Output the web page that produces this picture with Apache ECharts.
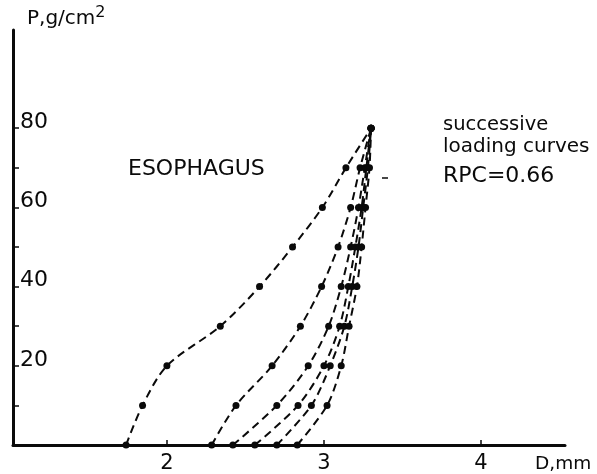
<!DOCTYPE html>
<html>
<head>
<meta charset="utf-8">
<script src="https://cdn.jsdelivr.net/npm/echarts@6/dist/echarts.min.js"></script>
<style>
  html, body { margin: 0; padding: 0; background: #fff; }
  #chart { width: 597px; height: 474px; }
</style>
</head>
<body>
<div id="chart"></div>
<script>
// Pressure steps (g/cm2) shared by every loading curve
const pressures = [0, 10, 20, 30, 40, 50, 60, 70, 80];

// Diameter (mm) at each pressure step, one array per successive loading
const load1 = [1.74, 1.845, 2.00, 2.34, 2.59, 2.80, 2.99, 3.14, 3.30];
const load2 = [2.285, 2.44, 2.67, 2.85, 2.985, 3.09, 3.17, 3.23, 3.30];
const load3 = [2.42, 2.70, 2.90, 3.03, 3.11, 3.17, 3.22, 3.26, 3.30];
const load4 = [2.56, 2.835, 3.00, 3.10, 3.155, 3.20, 3.24, 3.27, 3.30];
const load5 = [2.70, 2.92, 3.04, 3.13, 3.18, 3.22, 3.25, 3.28, 3.30];
const load6 = [2.83, 3.02, 3.11, 3.16, 3.21, 3.24, 3.265, 3.29, 3.30];

const loads = [load1, load2, load3, load4, load5, load6];

const xTicks = [2, 3, 4];
const yTicks = [10, 20, 30, 40, 50, 60, 70, 80];
const yLabels = [20, 40, 60, 80];

const FONT = 'DejaVu Sans';
const INK = '#0a0a0a';

const chart = echarts.init(document.getElementById('chart'), null, { renderer: 'canvas' });

const series = loads.map((d, i) => ({
  name: 'load ' + (i + 1),
  type: 'line',
  smooth: 0.3,
  data: d.map((x, k) => [x, pressures[k]]),
  symbol: 'circle',
  symbolSize: 7,
  itemStyle: { color: INK },
  lineStyle: { color: INK, width: 2, type: [8, 5] },
  z: 3
}));

chart.setOption({
  animation: false,
  backgroundColor: '#fff',
  grid: { left: 13, right: 32, top: 30, bottom: 28, containLabel: false },
  xAxis: {
    type: 'value',
    min: 1.02,
    max: 4.535,
    axisLine: { show: true, onZero: false, lineStyle: { color: INK, width: 3 } },
    axisTick: { show: true, inside: true, length: 5, customValues: xTicks, lineStyle: { color: INK, width: 1.5 } },
    axisLabel: {
      customValues: xTicks, margin: 8, color: INK, fontFamily: FONT, fontSize: 21
    },
    splitLine: { show: false }
  },
  yAxis: {
    type: 'value',
    min: 0,
    max: 104.8,
    axisLine: { show: true, onZero: false, lineStyle: { color: INK, width: 3 } },
    axisTick: { show: true, inside: true, length: 6, customValues: yTicks, lineStyle: { color: INK, width: 1.5 } },
    axisLabel: {
      customValues: yLabels, inside: true, margin: 7, color: INK,
      fontFamily: FONT, fontSize: 22, verticalAlign: 'bottom', lineHeight: 12
    },
    splitLine: { show: false }
  },
  series: series,
  graphic: [
    {
      type: 'text', left: 27, top: 5,
      style: {
        text: '{b|P,g/cm}{s|2}',
        rich: {
          b: { fontFamily: FONT, fontSize: 20, fill: INK, verticalAlign: 'bottom' },
          s: { fontFamily: FONT, fontSize: 16, fill: INK, verticalAlign: 'top', padding: [0, 0, 8, 0] }
        }
      }
    },
    {
      type: 'text', left: 535, top: 455,
      style: { text: 'D,mm', fontFamily: FONT, fontSize: 18.5, fill: INK }
    },
    {
      type: 'text', left: 128, top: 158,
      style: { text: 'ESOPHAGUS', fontFamily: FONT, fontSize: 22, fill: INK }
    },
    {
      type: 'text', left: 443, top: 115,
      style: { text: 'successive', fontFamily: FONT, fontSize: 19.5, fill: INK }
    },
    {
      type: 'text', left: 443, top: 137,
      style: { text: 'loading curves', fontFamily: FONT, fontSize: 20, fill: INK }
    },
    {
      type: 'text', left: 443, top: 165,
      style: { text: 'RPC=0.66', fontFamily: FONT, fontSize: 22, fill: INK, letterSpacing: -1 }
    },
    {
      type: 'line', shape: { x1: 382, y1: 178, x2: 388, y2: 178 },
      style: { stroke: INK, lineWidth: 1.5 }
    }
  ]
});
</script>
</body>
</html>
